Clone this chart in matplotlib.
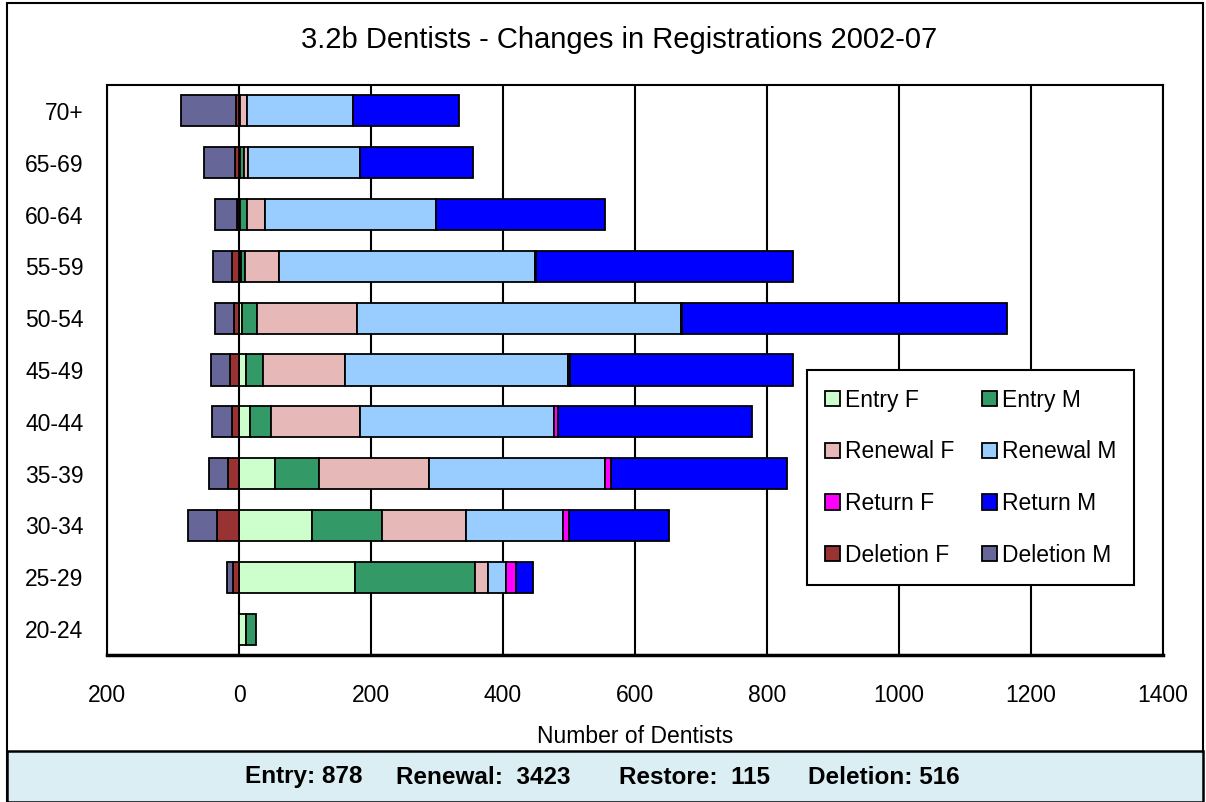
import matplotlib.pyplot as plt
from matplotlib.patches import Rectangle
from matplotlib.ticker import FuncFormatter, MultipleLocator
import numpy as np

plt.rcParams['font.family'] = ['Liberation Sans', 'DejaVu Sans']

# age bands, top of chart first
ages = ['70+', '65-69', '60-64', '55-59', '50-54', '45-49',
        '40-44', '35-39', '30-34', '25-29', '20-24']

# positive side (stacked left to right)
entry_f   = np.array([0,   2,   2,   3,   4,  11,  17,  54, 111, 175, 11])
entry_m   = np.array([2,   5,  10,   6,  23,  25,  31,  67, 106, 182, 15])
renewal_f = np.array([10,  7,  28,  52, 152, 124, 136, 167, 127,  20,  0])
renewal_m = np.array([160, 169, 258, 387, 491, 338, 294, 266, 147, 28, 0])
return_f  = np.array([1,   1,   1,   2,   1,   3,   6,   9,   9,  15,  0])
return_m  = np.array([161, 171, 256, 389, 493, 338, 293, 267, 152, 25, 0])
# negative side (stacked from zero to the left)
deletion_f = np.array([-4,  -6, -3, -11,  -8, -14, -11, -17, -33, -9, 0])
deletion_m = np.array([-84, -47, -33, -28, -28, -28, -30, -28, -45, -9, 0])

footer = ['Entry: 878', 'Renewal:  3423', 'Restore:  115', 'Deletion: 516']

fig = plt.figure(figsize=(12.06, 8.02), dpi=100)
ax = fig.add_axes([107/1206, 1-655/802, 1056/1206, 570/802])

y = np.arange(len(ages))[::-1]
h = 0.6
bar_kw = dict(height=h, edgecolor='black', linewidth=1.3, zorder=3)

handles = {}
left = np.zeros(len(ages))
for name, vals, col in [('Entry F', entry_f, '#CCFFCC'),
                        ('Entry M', entry_m, '#339966'),
                        ('Renewal F', renewal_f, '#E6B9B8'),
                        ('Renewal M', renewal_m, '#99CCFF'),
                        ('Return F', return_f, '#FF00FF'),
                        ('Return M', return_m, '#0000FF')]:
    m = vals != 0
    handles[name] = ax.barh(y[m], vals[m], left=left[m], color=col, **bar_kw)
    left = left + vals

left = np.zeros(len(ages))
for name, vals, col in [('Deletion F', deletion_f, '#993333'),
                        ('Deletion M', deletion_m, '#666699')]:
    m = vals != 0
    handles[name] = ax.barh(y[m], vals[m], left=left[m], color=col, **bar_kw)
    left = left + vals

ax.set_xlim(-200, 1400)
ax.set_ylim(-0.5, len(ages) - 0.5)
ax.xaxis.set_major_locator(MultipleLocator(200))
ax.xaxis.set_major_formatter(FuncFormatter(lambda v, p: f'{abs(int(v))}'))
ax.set_yticks(y)
ax.set_yticklabels(ages)
ax.tick_params(axis='both', length=0, labelsize=16.5)
ax.tick_params(axis='y', pad=17)
ax.tick_params(axis='x', pad=21)
ax.xaxis.grid(True, color='black', linewidth=1.5)
ax.set_axisbelow(True)
for s in ax.spines.values():
    s.set_linewidth(1.5)
ax.spines['bottom'].set_linewidth(2.5)
ax.set_xlabel('Number of Dentists', fontsize=16.5, labelpad=13)

order = ['Entry F', 'Renewal F', 'Return F', 'Deletion F',
         'Entry M', 'Renewal M', 'Return M', 'Deletion M']
leg = ax.legend([handles[k] for k in order], order, ncol=2, loc='lower left',
                bbox_to_anchor=(0.663, 0.123, 0.31, 0.375), mode='expand',
                borderaxespad=0, fontsize=16.5, frameon=True, fancybox=False,
                framealpha=1, edgecolor='black', handlelength=0.65,
                handleheight=0.65, handletextpad=0.2, labelspacing=1.25,
                borderpad=0.8, columnspacing=1.0)
leg.get_frame().set_linewidth(1.5)
leg.set_zorder(5)

fig.text(0.513, 1-40/802, '3.2b Dentists - Changes in Registrations 2002-07',
         ha='center', va='center', fontsize=21)

# outer frame and footer strip
fig.patches.append(Rectangle((7/1206, 0), 1196/1206, 799/802, transform=fig.transFigure,
                             facecolor='none', edgecolor='black', linewidth=1.5))
fig.patches.append(Rectangle((7/1206, 0), 1196/1206, 51/802, transform=fig.transFigure,
                             facecolor='#DAEEF3', edgecolor='black', linewidth=1.8))
for txt, x0 in zip(footer, [245, 396, 619, 808]):
    fig.text(x0/1206, 1-777/802, txt, ha='left', va='center',
             fontsize=17.5, fontweight='bold')

fig.savefig('out.png', dpi=100)
